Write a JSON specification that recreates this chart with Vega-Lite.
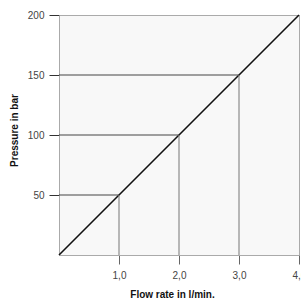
{
  "$schema": "https://vega.github.io/schema/vega-lite/v6.json",
  "width": 240,
  "height": 240,
  "autosize": {"type": "none"},
  "padding": {"left": 59, "top": 15, "right": 2, "bottom": 45},
  "background": "white",
  "config": {
    "view": {"fill": "#f8f8f8", "stroke": "#aaaaaa", "strokeWidth": 1},
    "font": "Liberation Sans",
    "axis": {"labelFont": "Liberation Sans", "titleFont": "Liberation Sans", "labelColor": "#444444", "titleColor": "#111111", "grid": false, "domainColor": "#aaaaaa", "labelFontSize": 10, "titleFontSize": 10, "titleFontWeight": "bold"}
  },
  "layer": [
    {
      "data": {"values": [{"flow": 0, "pressure": 0}, {"flow": 4, "pressure": 200}]},
      "mark": {"type": "line", "color": "#111111", "strokeWidth": 1.6},
      "encoding": {
        "x": {"field": "flow", "type": "quantitative", "scale": {"domain": [0, 4]},
          "axis": {"values": [1, 2, 3, 4], "tickSize": 9, "tickColor": "#666666", "labelPadding": 6, "labelFlush": false, "labelExpr": "replace(format(datum.value, '.1f'), '.', ',')", "title": "Flow rate in l/min.", "titlePadding": 9, "titleX": 113}},
        "y": {"field": "pressure", "type": "quantitative", "scale": {"domain": [0, 200]},
          "axis": {"values": [50, 100, 150, 200], "tickSize": 10, "tickColor": "#333333", "labelPadding": 5, "labelFlush": false, "title": "Pressure in bar", "titlePadding": 8, "titleY": 115}}
      }
    },
    {
      "data": {"values": [
        {"flow": 1, "pressure": 50},
        {"flow": 2, "pressure": 100},
        {"flow": 3, "pressure": 150}
      ]},
      "layer": [
        {
          "mark": {"type": "rule", "color": "#444444", "strokeWidth": 1.2},
          "encoding": {
            "x": {"field": "flow", "type": "quantitative"},
            "x2": {"datum": 0},
            "y": {"field": "pressure", "type": "quantitative"}
          }
        },
        {
          "mark": {"type": "rule", "color": "#777777", "strokeWidth": 1},
          "encoding": {
            "x": {"field": "flow", "type": "quantitative"},
            "y": {"field": "pressure", "type": "quantitative"},
            "y2": {"datum": 0}
          }
        }
      ]
    }
  ]
}
